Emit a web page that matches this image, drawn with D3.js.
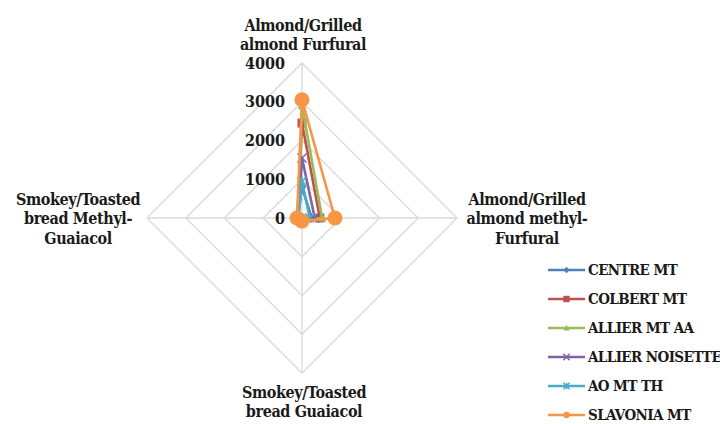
<!DOCTYPE html>
<html>
<head>
<meta charset="utf-8">
<script src="https://cdn.jsdelivr.net/npm/d3@7"></script>
<style>
  html, body { margin: 0; padding: 0; background: #fff; }
  svg { display: block; }
</style>
</head>
<body>
<svg id="chart" width="720" height="424" font-family="'DejaVu Serif Condensed', 'DejaVu Serif', serif" font-weight="bold"></svg>
<script>
// Radar axes (clockwise from the top)
const axes = [
  ["Almond/Grilled", "almond Furfural"],
  ["Almond/Grilled", "almond methyl-", "Furfural"],
  ["Smokey/Toasted", "bread Guaiacol"],
  ["Smokey/Toasted", "bread Methyl-", "Guaiacol"]
];
const tickValues = [0, 1000, 2000, 3000, 4000];
const seriesNames = ["CENTRE MT", "COLBERT MT", "ALLIER MT AA", "ALLIER NOISETTE", "AO MT TH", "SLAVONIA MT"];
// values per series: [Furfural, methyl-Furfural, Guaiacol, Methyl-Guaiacol]
const centreMT       = [800, 250, 60, 110];
const colbertMT      = [2450, 460, 70, 120];
const allierMTAA     = [2900, 520, 60, 100];
const allierNoisette = [1550, 330, 50, 100];
const aoMTTH         = [950, 200, 50, 90];
const slavoniaMT     = [3050, 850, 80, 130];
const seriesValues = [centreMT, colbertMT, allierMTAA, allierNoisette, aoMTTH, slavoniaMT];
const colors = ["#4F81BD", "#C0504D", "#9BBB59", "#8064A2", "#4BACC6", "#F79646"];
const markers = ["diamond", "square", "triangle", "cross", "star", "circle"];

const svg = d3.select("#chart");
const cx = 302, cy = 218;
const r = d3.scaleLinear().domain([0, 4000]).range([0, 155]);
const angle = i => -Math.PI / 2 + i * Math.PI / 2;
const pt = (i, v) => [cx + r(v) * Math.cos(angle(i)), cy + r(v) * Math.sin(angle(i))];

// grid rings (diamonds) and spokes
const grid = svg.append("g");
tickValues.slice(1).forEach(t => {
  grid.append("path")
    .attr("d", d3.line()(axes.map((_, i) => pt(i, t))) + "Z")
    .attr("fill", "none").attr("stroke", "#d9d9d9").attr("stroke-width", 1.3);
});
axes.forEach((_, i) => {
  const [x, y] = pt(i, 4000);
  grid.append("line").attr("x1", cx).attr("y1", cy).attr("x2", x).attr("y2", y)
    .attr("stroke", "#d9d9d9").attr("stroke-width", 1.3);
});

// radial tick labels
svg.append("g").selectAll("text").data(tickValues).join("text")
  .attr("x", cx - 17).attr("y", d => cy - r(d))
  .attr("dy", "0.35em").attr("text-anchor", "end")
  .attr("fill", "#1a1a1a")
  .style("font-size", "16px")
  .text(d => d);

// axis titles
const titlePos = [
  { x: 303, y: 25 },
  { x: 527, y: 199 },
  { x: 304, y: 392 },
  { x: 78, y: 199 }
];
axes.forEach((lines, i) => {
  const t = svg.append("text").attr("text-anchor", "middle").attr("fill", "#1a1a1a")
    .style("font-size", "16px").style("letter-spacing", "-0.4px");
  lines.forEach((l, k) => {
    t.append("tspan").attr("x", titlePos[i].x).attr("y", titlePos[i].y + k * 19.5)
      .attr("dy", "0.35em").text(l);
  });
});

// marker shapes
function drawMarker(g, type, x, y, s, color) {
  if (type === "circle") {
    g.append("circle").attr("cx", x).attr("cy", y).attr("r", s).attr("fill", color);
  } else if (type === "square") {
    g.append("rect").attr("x", x - s).attr("y", y - s).attr("width", 2 * s).attr("height", 2 * s).attr("fill", color);
  } else if (type === "diamond") {
    g.append("path").attr("d", `M${x},${y - s}L${x + s},${y}L${x},${y + s}L${x - s},${y}Z`).attr("fill", color);
  } else if (type === "triangle") {
    g.append("path").attr("d", `M${x},${y - s}L${x + s},${y + s * 0.8}L${x - s},${y + s * 0.8}Z`).attr("fill", color);
  } else if (type === "cross") {
    g.append("path").attr("d", `M${x - s},${y - s}L${x + s},${y + s}M${x - s},${y + s}L${x + s},${y - s}`)
      .attr("stroke", color).attr("stroke-width", 1.5).attr("fill", "none");
  } else if (type === "star") {
    g.append("path").attr("d", `M${x - s},${y - s}L${x + s},${y + s}M${x - s},${y + s}L${x + s},${y - s}M${x},${y - s}L${x},${y + s}`)
      .attr("stroke", color).attr("stroke-width", 1.5).attr("fill", "none");
  }
}
const markerSize = [4.5, 4.5, 4.5, 4.5, 4.5, 7.5];

// series polygons
const plot = svg.append("g");
seriesValues.forEach((vals, s) => {
  const pts = vals.map((v, i) => pt(i, v));
  const g = plot.append("g");
  g.append("path").attr("d", d3.line()(pts) + "Z")
    .attr("fill", "none").attr("stroke", colors[s]).attr("stroke-width", 2.6)
    .attr("stroke-linejoin", "round");
  pts.forEach(p => drawMarker(g, markers[s], p[0], p[1], markerSize[s], colors[s]));
});

// legend
const legend = svg.append("g");
seriesNames.forEach((name, s) => {
  const y = 270 + s * 29;
  const g = legend.append("g");
  g.append("line").attr("x1", 548).attr("x2", 585).attr("y1", y).attr("y2", y)
    .attr("stroke", colors[s]).attr("stroke-width", 2.6);
  drawMarker(g, markers[s], 566.5, y, 3.2, colors[s]);
  g.append("text").attr("x", 588).attr("y", y).attr("dy", "0.35em")
    .attr("fill", "#1a1a1a")
    .style("font-size", "15px").style("letter-spacing", "-0.6px").text(name);
});
</script>
</body>
</html>
